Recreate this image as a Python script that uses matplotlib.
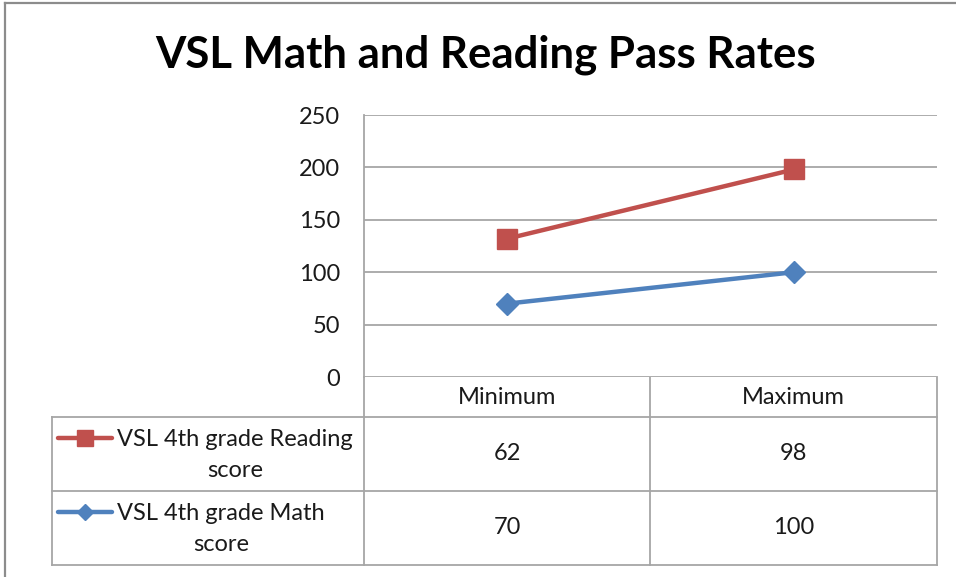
import matplotlib.pyplot as plt
from matplotlib.lines import Line2D

plt.rcParams['font.family'] = ['Lato', 'DejaVu Sans']

# 数据
categories = ['Minimum', 'Maximum']
math_score = [70, 100]
reading_score = [62, 98]
series_names = ['VSL 4th grade Reading\nscore', 'VSL 4th grade Math\nscore']
title = 'VSL Math and Reading Pass Rates'
y_ticks = [0, 50, 100, 150, 200, 250]

red = '#C0504D'
blue = '#4F81BD'
grid_c = '#a6a6a6'
text_c = '#1a1a1a'
fs = 17

W, H = 956, 577
fig = plt.figure(figsize=(W / 100, H / 100), dpi=100)

# 主绘图区（堆积折线图）
x0, x1, ytop, ybot = 364, 937, 115, 377
ax = fig.add_axes([x0 / W, (H - ybot) / H, (x1 - x0) / W, (ybot - ytop) / H])
xs = list(range(len(categories)))
stacked = [m + r for m, r in zip(math_score, reading_score)]
ax.plot(xs, math_score, color=blue, lw=3.2, marker='D', ms=11, zorder=3)
ax.plot(xs, stacked, color=red, lw=3.2, marker='s', ms=15, zorder=3)
ax.set_xlim(-0.5, len(categories) - 0.5)
ax.set_ylim(0, 250)
ax.set_yticks(y_ticks)
ax.set_xticks([])
ax.tick_params(axis='y', length=0, pad=17, labelsize=fs, labelcolor=text_c)
for v in y_ticks:
    ax.axhline(v, color=grid_c, lw=1.3, zorder=1)
for s in ['top', 'right', 'bottom']:
    ax.spines[s].set_visible(False)
ax.spines['left'].set_color(grid_c)
ax.spines['left'].set_linewidth(1.3)

# 覆盖层：数据表格、外框
ov = fig.add_axes([0, 0, 1, 1], zorder=-1)
ov.set_xlim(0, W)
ov.set_ylim(H, 0)
ov.axis('off')

tl, r0, r1, r2, r3 = 52, 377, 417, 491, 565
cols = [x0, (x0 + x1) / 2, x1]
lk = dict(color=grid_c, lw=1.3)
ov.plot([tl, x1], [r1, r1], **lk)
ov.plot([tl, x1], [r2, r2], **lk)
ov.plot([tl, x1], [r3, r3], **lk)
ov.plot([x0, x0], [r0, r3], **lk)
ov.plot([cols[1], cols[1]], [r0, r3], **lk)
ov.plot([x1, x1], [r0, r3], **lk)
ov.plot([tl, tl], [r1, r3], **lk)

# 外框
ov.plot([5, W], [3, 3], color='#8c8c8c', lw=1.6)
ov.plot([5, 5], [3, H], color='#8c8c8c', lw=1.6)

centers = [(cols[0] + cols[1]) / 2, (cols[1] + cols[2]) / 2]
for c, name in zip(centers, categories):
    ov.text(c, (r0 + r1) / 2 + 1, name, ha='center', va='center', fontsize=fs, color=text_c)

rows = [(r1, r2, reading_score, red, 's', 11, series_names[0]),
        (r2, r3, math_score, blue, 'D', 8, series_names[1])]
for ra, rb, vals, col, mk, ms, name in rows:
    yc = (ra + rb) / 2
    ov.text(117, yc + 1, name, ha='left', va='center', multialignment='center',
            fontsize=fs, color=text_c, linespacing=1.6)
    ov.add_line(Line2D([58, 85, 112], [yc - 16] * 3, color=col, lw=3.2,
                       marker=mk, ms=ms, markevery=[1], solid_capstyle='round'))
    for c, v in zip(centers, vals):
        ov.text(c, yc, str(v), ha='center', va='center', fontsize=fs, color=text_c)

fig.text(486 / W, 1 - 55 / H, title, ha='center', va='center',
         fontsize=31.5, fontweight='bold', color='black')

fig.savefig('out.png', dpi=100)
